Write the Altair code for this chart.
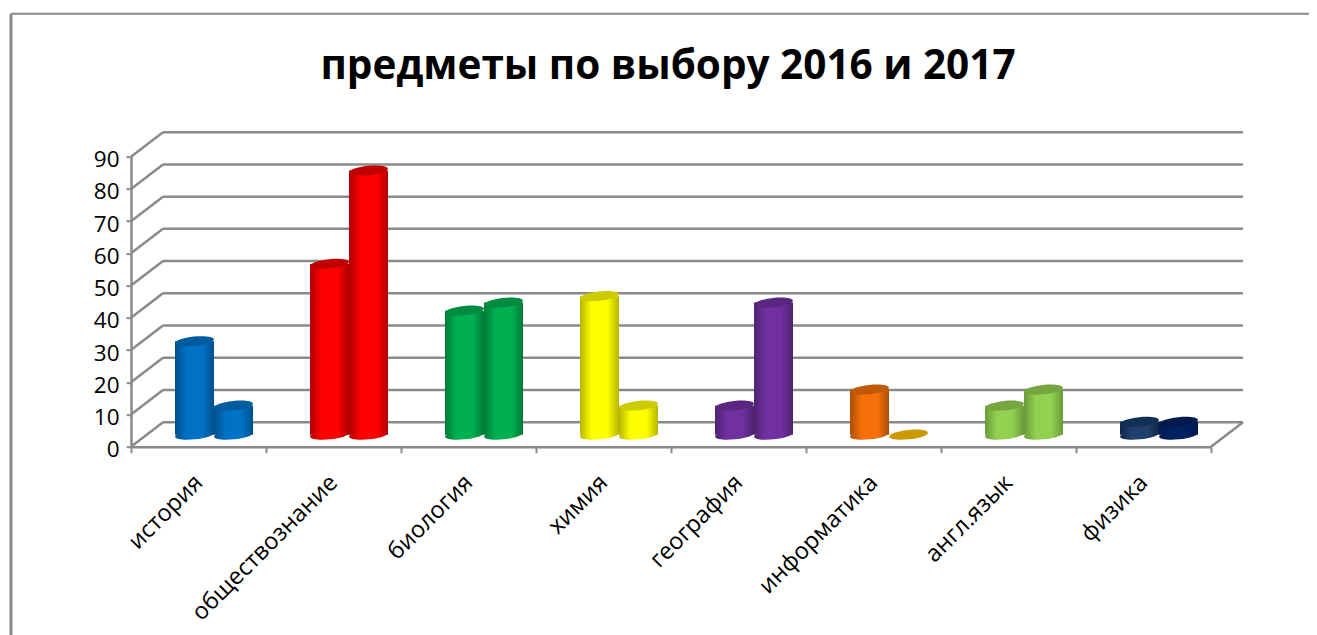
import altair as alt
import pandas as pd

categories = ["история", "обществознание", "биология", "химия", "география", "информатика", "англ.язык", "физика"]
values_2016 = [29, 53, 38.5, 43, 9, 14, 9, 4]
values_2017 = [9, 82, 41, 9, 41, 0, 14, 4]
ticks = [0, 10, 20, 30, 40, 50, 60, 70, 80, 90]
# edge, centre, top
colors_2016 = [("#00508A", "#0072C6", "#005C9E"), ("#B00000", "#FF0000", "#C00000"), ("#007A37", "#00B050", "#008C40"),
               ("#B5B500", "#FFFF00", "#CCCC00"), ("#4E2270", "#7030A0", "#5A2680"), ("#AD4F07", "#F6700A", "#BF5A08"),
               ("#6B9A3A", "#92D050", "#75A640"), ("#10294A", "#1F3F6C", "#123055")]
colors_2017 = [("#00508A", "#0072C6", "#005C9E"), ("#B00000", "#FF0000", "#C00000"), ("#007A37", "#00B050", "#008C40"),
               ("#B5B500", "#FFFF00", "#CCCC00"), ("#4E2270", "#7030A0", "#5A2680"), ("#CC9900", "#CC9900", "#CC9900"),
               ("#6B9A3A", "#92D050", "#75A640"), ("#001A50", "#002060", "#001A4D")]

GRAY = "#8A8A8A"
FONT = "Open Sans"
W, H = 1080, 290
DX, DY = 32, 24.5
CYL = 39
ELLIPSE = "M -1 0 A 1 0.24 0 1 1 1 0 A 1 0.24 0 1 1 -1 0 Z"

y_scale = alt.Scale(domain=[0, 90], range=[H, 0], nice=False, zero=False)
x_scale = alt.Scale(domain=categories, paddingInner=0, paddingOuter=0)
x_enc = alt.X("cat:N", scale=x_scale, sort=categories, title=None,
              axis=alt.Axis(labelAngle=315, labelAlign="right", labelBaseline="middle", labelFont=FONT, labelFontSize=23.5,
                            labelColor="#000000", domainColor=GRAY, domainWidth=2.5, tickColor=GRAY, tickWidth=2, tickSize=6,
                            tickBand="extent", labelPadding=26, labelLimit=500, labelOverlap=False, grid=False,
                            labelBound=False, labelFlush=False))
y_enc = alt.Y("v:Q", scale=y_scale, title=None,
              axis=alt.Axis(values=ticks, labelFont=FONT, labelFontSize=22.5, labelColor="#000000", domainColor=GRAY,
                            domainWidth=2.5, tickColor=GRAY, tickWidth=2, tickSize=5, labelPadding=7, labelOffset=3, grid=False,
                            labelFlush=False, labelBound=False))

grid_df = pd.DataFrame({"v": ticks})
grid_df["back"] = grid_df["v"] + DY * 90 / H

back = alt.Chart(grid_df).mark_rule(color=GRAY, strokeWidth=2.5, yOffset=-DY).encode(
    y=y_enc, x=alt.value(DX), x2=alt.value(W + DX))
side = alt.Chart(grid_df).mark_rule(color=GRAY, strokeWidth=2.5).encode(
    y=y_enc, y2="back:Q", x=alt.value(0), x2=alt.value(DX))
floor = alt.Chart(grid_df[grid_df["v"] == 0]).mark_rule(color=GRAY, strokeWidth=2.5).encode(
    y=y_enc, y2="back:Q", x=alt.value(W), x2=alt.value(W + DX))
frame_top = alt.Chart().mark_rule(color=GRAY, strokeWidth=2).encode(
    x=alt.value(-120), x2=alt.value(1190), y=alt.value(-143))
frame_left = alt.Chart().mark_rule(color=GRAY, strokeWidth=3).encode(
    x=alt.value(-120), y=alt.value(-143), y2=alt.value(480))

layers = [back, side, floor, frame_top, frame_left]


def cylinder(cat, value, offset, cols):
    edge, mid, top = cols
    df = pd.DataFrame({"cat": [cat], "v": [value], "base": [0]})
    df_base = pd.DataFrame({"cat": [cat], "v": [0]})
    grad = {"gradient": "linear", "x1": 0, "x2": 1, "y1": 0, "y2": 0,
            "stops": [{"offset": 0, "color": edge}, {"offset": 0.3, "color": mid},
                      {"offset": 0.7, "color": mid}, {"offset": 1, "color": edge}]}
    out = []
    size = CYL * CYL
    if value > 0:
        out.append(alt.Chart(df_base).mark_point(shape=ELLIPSE, filled=True, opacity=1, size=size, strokeWidth=0, angle=354,
                                   color=grad, xOffset=DX / 2 - 0.5 + offset, yOffset=-12).encode(x=x_enc, y=y_enc))
        out.append(alt.Chart(df).mark_bar(width=CYL, color=grad, xOffset=DX / 2 - 0.5 + offset, yOffset=-12, y2Offset=-12).encode(
            x=x_enc, y=y_enc, y2=alt.Y2("base:Q")))
    out.append(alt.Chart(df).mark_point(shape=ELLIPSE, filled=True, opacity=1, size=size, strokeWidth=0, angle=354,
                               color=top, xOffset=DX / 2 - 0.5 + offset, yOffset=-12).encode(x=x_enc, y=y_enc))
    return out


for i, cat in enumerate(categories):
    layers += cylinder(cat, values_2016[i], -CYL / 2, colors_2016[i])
    layers += cylinder(cat, values_2017[i], CYL / 2, colors_2017[i])

chart = alt.layer(*layers).properties(
    width=W, height=H,
    padding={"left": 123, "top": 148.7, "right": 98, "bottom": 188.3},
    autosize=alt.AutoSizeParams(type="none"),
    background="#FFFFFF",
    title=alt.TitleParams("предметы по выбору 2016 и 2017", font=FONT, fontSize=40.5, fontWeight="bold", color="#000000",
                          anchor="middle", frame="group", offset=-75, dx=-3),
).configure_view(stroke=None)

chart.save("out.html", embed_options={"renderer": "svg", "actions": False})
